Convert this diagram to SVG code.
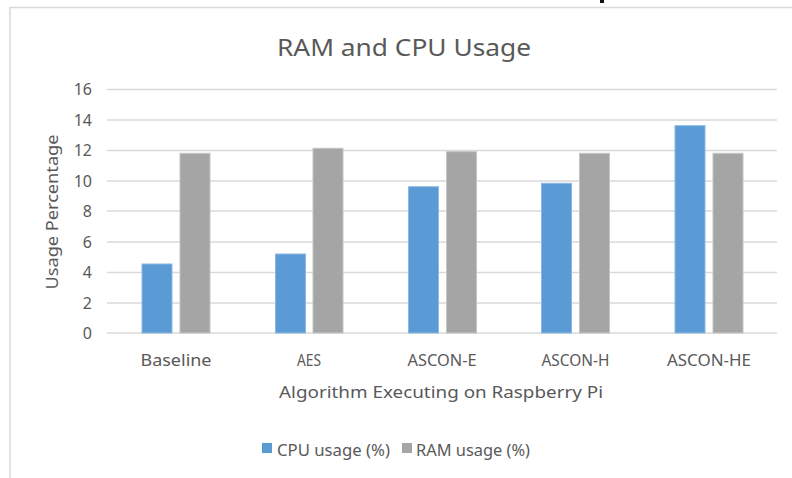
<svg xmlns="http://www.w3.org/2000/svg" width="792" height="478" viewBox="0 0 792 478">
  <style>
    .txt { font-family: "Noto Sans", "Open Sans", "Liberation Sans", sans-serif; fill: #595959; }
    .grid { stroke: #D9D9D9; stroke-width: 1.5; fill: none; }
    .cpu { fill: #5B9BD5; stroke: #8DB8E2; stroke-width: 1; }
    .ram { fill: #A5A5A5; stroke: #C4C4C4; stroke-width: 1; }
    .ytick { font-size: 16px; text-anchor: end; }
    .xtick { font-size: 16px; text-anchor: middle; }
  </style>

  <!-- page background and chart frame -->
  <rect x="0" y="0" width="792" height="478" fill="#FFFFFF"/>
  <rect x="600" y="0" width="4" height="3" fill="#111111"/>
  <path d="M10,478 V7.5 H792" stroke="#D9D9D9" stroke-width="1.5" fill="none"/>

  <!-- title -->
  <text class="txt" x="404" y="56" font-size="24" text-anchor="middle" textLength="254" lengthAdjust="spacingAndGlyphs">RAM and CPU Usage</text>

  <!-- gridlines (0..16 step 2) -->
  <g id="gridlines">
    <line class="grid" x1="107" y1="89.5" x2="777" y2="89.5"/>
    <line class="grid" x1="107" y1="120" x2="777" y2="120"/>
    <line class="grid" x1="107" y1="150.5" x2="777" y2="150.5"/>
    <line class="grid" x1="107" y1="181" x2="777" y2="181"/>
    <line class="grid" x1="107" y1="211" x2="777" y2="211"/>
    <line class="grid" x1="107" y1="242" x2="777" y2="242"/>
    <line class="grid" x1="107" y1="272.5" x2="777" y2="272.5"/>
    <line class="grid" x1="107" y1="303" x2="777" y2="303"/>
    <line class="grid" x1="107" y1="333" x2="777" y2="333"/>
  </g>

  <!-- y axis tick labels -->
  <g id="y-axis" class="txt">
    <text class="ytick" x="92" y="95">16</text>
    <text class="ytick" x="92" y="125.5">14</text>
    <text class="ytick" x="92" y="156">12</text>
    <text class="ytick" x="92" y="186.5">10</text>
    <text class="ytick" x="92" y="216.5">8</text>
    <text class="ytick" x="92" y="247.5">6</text>
    <text class="ytick" x="92" y="278">4</text>
    <text class="ytick" x="92" y="308.5">2</text>
    <text class="ytick" x="92" y="338.5">0</text>
    <text class="txt" transform="translate(58,212) rotate(-90)" font-size="17" text-anchor="middle" textLength="155" lengthAdjust="spacingAndGlyphs">Usage Percentage</text>
  </g>

  <!-- bars: scale 15.22 px per unit, zero at y=333 -->
  <g id="bars">
    <g id="baseline">
      <rect class="cpu" x="142" y="264" width="30" height="69"/>
      <rect class="ram" x="180" y="153.3" width="30" height="179.7"/>
    </g>
    <g id="aes">
      <rect class="cpu" x="275.5" y="254" width="30" height="79"/>
      <rect class="ram" x="313" y="148.3" width="30" height="184.7"/>
    </g>
    <g id="ascon-e">
      <rect class="cpu" x="408.5" y="186.7" width="30" height="146.3"/>
      <rect class="ram" x="446.5" y="151.7" width="30" height="181.3"/>
    </g>
    <g id="ascon-h">
      <rect class="cpu" x="541.5" y="183.3" width="30" height="149.7"/>
      <rect class="ram" x="579.5" y="153.3" width="30" height="179.7"/>
    </g>
    <g id="ascon-he">
      <rect class="cpu" x="675" y="125.7" width="30" height="207.3"/>
      <rect class="ram" x="713" y="153.3" width="30" height="179.7"/>
    </g>
  </g>

  <!-- x axis category labels -->
  <g id="x-axis" class="txt">
    <text class="xtick" x="176" y="366" textLength="71" lengthAdjust="spacingAndGlyphs">Baseline</text>
    <text class="xtick" x="309" y="366" textLength="24" lengthAdjust="spacingAndGlyphs">AES</text>
    <text class="xtick" x="442" y="366" textLength="69" lengthAdjust="spacingAndGlyphs">ASCON-E</text>
    <text class="xtick" x="575.5" y="366" textLength="68" lengthAdjust="spacingAndGlyphs">ASCON-H</text>
    <text class="xtick" x="709" y="366" textLength="84" lengthAdjust="spacingAndGlyphs">ASCON-HE</text>
    <text class="txt" x="441" y="398" font-size="17" text-anchor="middle" textLength="324" lengthAdjust="spacingAndGlyphs">Algorithm Executing on Raspberry Pi</text>
  </g>

  <!-- legend -->
  <g id="legend" class="txt">
    <rect x="262" y="443" width="10" height="10" fill="#5B9BD5"/>
    <text x="277" y="456" font-size="16" textLength="113" lengthAdjust="spacingAndGlyphs">CPU usage (%)</text>
    <rect x="402" y="443" width="10" height="10" fill="#A5A5A5"/>
    <text x="416" y="456" font-size="16" textLength="114" lengthAdjust="spacingAndGlyphs">RAM usage (%)</text>
  </g>
</svg>
